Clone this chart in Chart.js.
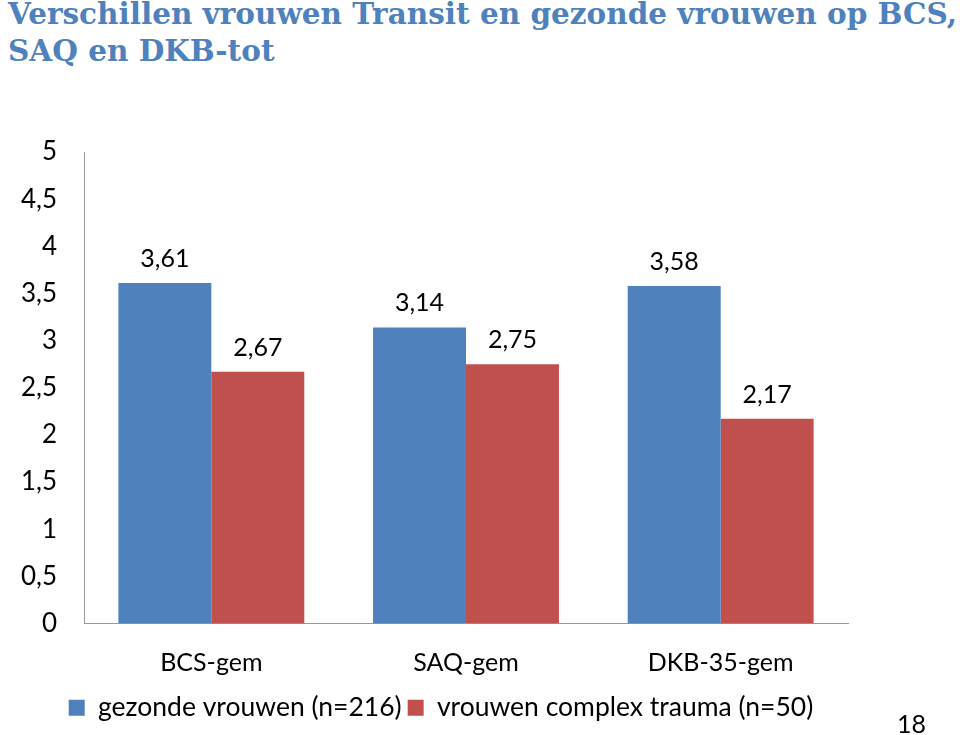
<!DOCTYPE html>
<html>
<head>
<meta charset="utf-8">
<script src="https://cdn.jsdelivr.net/npm/chart.js@4"></script>
<style>
  html, body { margin: 0; padding: 0; background: #fff; }
  body { width: 960px; height: 735px; position: relative; overflow: hidden; }
  #title { position: absolute; left: 8px; top: -5px; font-family: "DejaVu Serif", serif; font-weight: bold;
           font-size: 29.5px; line-height: 37px; color: #4F81BD; white-space: nowrap; }
  #page { position: absolute; left: 897px; top: 708px; font-family: Lato, sans-serif; font-size: 25px; color: #000; }
  #wrap { position: absolute; left: 0; top: 0; width: 960px; height: 735px; }
</style>
</head>
<body>
<div id="title">Verschillen vrouwen Transit en gezonde vrouwen op BCS,<br>SAQ en DKB-tot</div>
<div id="wrap"><canvas id="chart"></canvas></div>
<div id="page">18</div>
<script>
const CATEGORIES = ["BCS-gem", "SAQ-gem", "DKB-35-gem"];
const GEZOND = [3.61, 3.14, 3.58];
const TRAUMA = [2.67, 2.75, 2.17];
const SERIES_NAMES = ["gezonde vrouwen (n=216)", "vrouwen complex trauma (n=50)"];
const Y_TICKS = [0, 0.5, 1, 1.5, 2, 2.5, 3, 3.5, 4, 4.5, 5];

const FONT = "Lato, 'Open Sans', sans-serif";
const comma = v => String(v).replace(".", ",");

// waarden boven de staven
const valueLabels = {
  id: "valueLabels",
  afterDatasetsDraw(chart) {
    const ctx = chart.ctx;
    ctx.save();
    ctx.font = "25px " + FONT;
    ctx.fillStyle = "#000";
    ctx.textAlign = "center";
    ctx.textBaseline = "middle";
    chart.data.datasets.forEach((ds, i) => {
      chart.getDatasetMeta(i).data.forEach((bar, j) => {
        ctx.fillText(comma(ds.data[j].toFixed(2)), bar.x, bar.y - 24);
      });
    });
    ctx.restore();
  }
};

// legenda iets naar rechts, zoals in het origineel
const legendShift = {
  id: "legendShift",
  afterLayout(chart) {
    chart.legend.left += 17;
    chart.legend.right += 17;
  }
};

new Chart(document.getElementById("chart"), {
  type: "bar",
  data: {
    labels: CATEGORIES,
    datasets: [
      { label: SERIES_NAMES[0], data: GEZOND, backgroundColor: "#4F81BD" },
      { label: SERIES_NAMES[1], data: TRAUMA, backgroundColor: "#C0504D" },
    ],
  },
  options: {
    responsive: true, maintainAspectRatio: false, animation: false,
    categoryPercentage: 0.73, barPercentage: 1,
    layout: { padding: { top: 152, right: 112, left: 0, bottom: 4 } },
    plugins: {
      legend: {
        position: "bottom",
        labels: { font: { size: 26.5, family: FONT }, color: "#000", boxWidth: 16, boxHeight: 16, padding: 6 },
      },
      tooltip: { enabled: false },
    },
    scales: {
      x: {
        grid: { display: false, drawTicks: false },
        border: { color: "#999" },
        ticks: { font: { size: 25, family: FONT }, color: "#000", padding: 24 },
        afterFit: s => { s.height = 65; },
      },
      y: {
        min: 0, max: 5,
        grid: { display: false, drawTicks: false },
        border: { color: "#999" },
        afterBuildTicks: s => { s.ticks = Y_TICKS.map(v => ({ value: v })); },
        ticks: { font: { size: 26, family: FONT }, color: "#000", padding: 27, callback: v => comma(v) },
        afterFit: s => { s.width = 84; },
      },
    },
  },
  plugins: [valueLabels, legendShift],
});
</script>
</body>
</html>
